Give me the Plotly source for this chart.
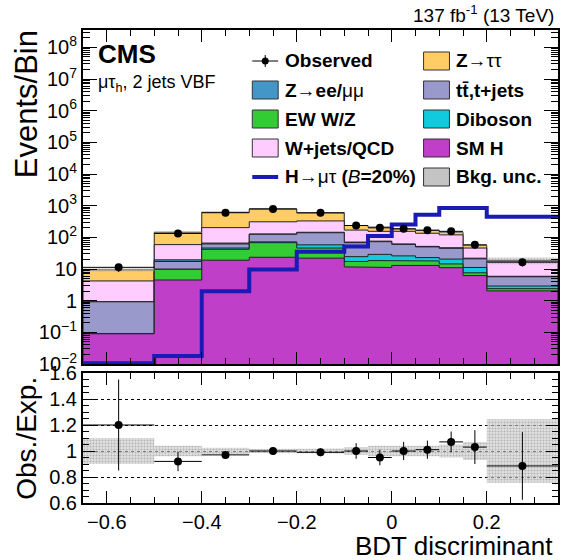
import numpy as np
import plotly.graph_objects as go

# ---------------- data ----------------
bin_edges = [-0.65, -0.5, -0.4, -0.3, -0.2, -0.1, -0.05, 0.0, 0.05, 0.1, 0.15, 0.2, 0.35]

sm_h    = [0.09, 4.5, 19.0, 23.5, 22.0, 11.7, 11.2, 13.0, 13.0, 11.0, 6.2, 2.04]
ew_wz   = [0.001, 5.3, 23.0, 44.5, 24.0, 5.6, 7.3, 5.0, 5.0, 3.5, 1.4, 0.36]
diboson = [0.001, 0.1, 4.0, 4.0, 12.0, 7.3, 10.5, 8.0, 5.0, 6.1, 3.6, 0.5]
ttbar   = [0.83, 7.4, 16.0, 53.0, 82.0, 43.4, 44.0, 34.0, 27.0, 24.4, 9.8, 2.8]
z_eemm  = [0.01, 2.2, 4.0, 3.0, 5.0, 3.0, 3.0, 2.0, 2.0, 2.0, 1.0, 0.2]
wj_qcd  = [3.27, 39.5, 137.0, 182.0, 185.0, 99.0, 79.0, 93.0, 83.0, 73.0, 24.0, 11.5]
z_tautau = [5.2, 86.0, 417.0, 480.0, 270.0, 67.0, 55.0, 31.0, 31.0, 25.0, 10.0, 1.2]

signal_lfv = [0.0105, 0.018, 2.0, 9.6, 35.0, 51.0, 110.0, 257.0, 515.0, 850.0, 850.0, 450.0]

observed     = [11.3, 133.0, 601.0, 790.0, 594.0, 237.0, 200.0, 186.0, 168.0, 155.0, 58.0, 16.5]
observed_err = [3.3, 11.0, 19.0, 20.0, 18.0, 14.0, 13.0, 13.0, 12.0, 12.0, 7.5, 4.5]

ratio_obs = [1.20, 0.92, 0.97, 1.00, 0.99, 1.00, 0.95, 1.00, 1.01, 1.07, 1.03, 0.885]
ratio_err = [0.35, 0.075, 0.03, 0.025, 0.03, 0.06, 0.06, 0.07, 0.07, 0.08, 0.13, 0.26]
bkg_rel_unc = [0.10, 0.04, 0.025, 0.015, 0.02, 0.03, 0.04, 0.045, 0.04, 0.05, 0.07, 0.245]

y_tick_vals = [1e-2, 1e-1, 1, 10, 1e2, 1e3, 1e4, 1e5, 1e6, 1e7, 1e8]
y_tick_text = ["10<sup>−2</sup>", "10<sup>−1</sup>", "1", "10", "10<sup>2</sup>", "10<sup>3</sup>",
               "10<sup>4</sup>", "10<sup>5</sup>", "10<sup>6</sup>", "10<sup>7</sup>", "10<sup>8</sup>"]
x_tick_vals = [-0.6, -0.4, -0.2, 0.0, 0.2]
x_tick_text = ["−0.6", "−0.4", "−0.2", "0", "0.2"]
r_tick_vals = [0.6, 0.8, 1.0, 1.2, 1.4, 1.6]
r_tick_text = ["0.6", "0.8", "1", "1.2", "1.4", "1.6"]

# ---------------- styling ----------------
FONT = "Liberation Sans, Arial, Helvetica, sans-serif"
C_ZTT = "#FFCC66"
C_ZEE = "#4496C8"
C_TT = "#9999CC"
C_EW = "#33CC33"
C_DIB = "#12CADD"
C_WJ = "#FFCCFF"
C_SMH = "#C03FC8"
C_SIG = "#1A1AB4"
C_EDGE = "#222222"

W, H = 563, 560
ML, MR, MT, MB = 83, 3, 30, 57
PW, PH = W - ML - MR, H - MT - MB
TOP_BOTTOM_PX, RATIO_TOP_PX = 364, 373


def px_x(p):
    return (p - ML) / PW


def px_y(p):
    return (H - MB - p) / PH


edges = np.array(bin_edges)
centers = 0.5 * (edges[:-1] + edges[1:])
halfw = 0.5 * (edges[1:] - edges[:-1])


def step_band(lower, upper):
    xs, ys = [], []
    for i in range(len(upper)):
        xs += [edges[i], edges[i + 1]]
        ys += [upper[i], upper[i]]
    for i in reversed(range(len(lower))):
        xs += [edges[i + 1], edges[i]]
        ys += [lower[i], lower[i]]
    xs.append(xs[0])
    ys.append(ys[0])
    return xs, ys


fig = go.Figure()

components = [sm_h, ew_wz, diboson, ttbar, z_eemm, wj_qcd, z_tautau]
colors = [C_SMH, C_EW, C_DIB, C_TT, C_ZEE, C_WJ, C_ZTT]
cum = np.cumsum(np.array(components), axis=0)
floor = np.full(len(centers), 1e-5)

for k in reversed(range(len(components))):
    xs, ys = step_band(floor, cum[k])
    fig.add_trace(go.Scatter(x=xs, y=ys, mode="lines", fill="toself", fillcolor=colors[k],
                             line=dict(color=C_EDGE, width=1), hoverinfo="skip",
                             showlegend=False, xaxis="x", yaxis="y"))

total = cum[-1]
unc = np.array(bkg_rel_unc)
xs, ys = step_band(total * (1 - unc), total * (1 + unc))
fig.add_trace(go.Scatter(x=xs, y=ys, mode="lines", fill="toself", fillcolor="rgba(150,150,150,0.45)",
                         fillpattern=dict(shape=".", fgcolor="#777777", bgcolor="rgba(190,190,190,0.5)",
                                          size=3, solidity=0.4),
                         line=dict(width=0), hoverinfo="skip", showlegend=False,
                         xaxis="x", yaxis="y"))

# signal line
sig_x = list(edges)
sig_y = list(signal_lfv) + [signal_lfv[-1]]
fig.add_trace(go.Scatter(x=sig_x, y=sig_y, mode="lines", line=dict(color=C_SIG, width=4, shape="hv"),
                         hoverinfo="skip", showlegend=False, xaxis="x", yaxis="y"))

# observed
fig.add_trace(go.Scatter(x=centers, y=observed, mode="markers",
                         marker=dict(color="black", size=8),
                         error_y=dict(type="data", array=observed_err, color="black", thickness=1, width=0),
                         error_x=dict(type="data", array=halfw, color="black", thickness=1, width=0),
                         showlegend=False, xaxis="x", yaxis="y"))

# ratio band
xs, ys = step_band(1 - unc, 1 + unc)
fig.add_trace(go.Scatter(x=xs, y=ys, mode="lines", fill="toself", fillcolor="rgba(170,170,170,0.55)",
                         fillpattern=dict(shape=".", fgcolor="#8a8a8a", bgcolor="rgba(205,205,205,0.6)",
                                          size=3, solidity=0.4),
                         line=dict(width=0), hoverinfo="skip", showlegend=False,
                         xaxis="x2", yaxis="y2"))
fig.add_trace(go.Scatter(x=centers, y=ratio_obs, mode="markers",
                         marker=dict(color="black", size=8),
                         error_y=dict(type="data", array=ratio_err, color="black", thickness=1, width=0),
                         error_x=dict(type="data", array=halfw, color="black", thickness=1, width=0),
                         showlegend=False, xaxis="x2", yaxis="y2"))

# ---------------- axes ----------------
y_minor = [m * 10.0 ** e for e in range(-2, 9) for m in range(2, 10)]
x_minor = list(np.round(np.arange(-0.65, 0.351, 0.05), 3))
tickfont = dict(family=FONT, size=20, color="black")
common_x = dict(range=[-0.65, 0.35], showline=True, linewidth=2, linecolor="black", mirror="allticks",
                ticks="inside", ticklen=12, tickwidth=1, tickcolor="black", showgrid=False, zeroline=False,
                tickvals=x_tick_vals,
                minor=dict(tickvals=x_minor, ticks="inside", ticklen=6, tickcolor="black", showgrid=False))
y_top0 = px_y(TOP_BOTTOM_PX)
y_bot1 = px_y(RATIO_TOP_PX)

fig.update_layout(
    width=W, height=H, margin=dict(l=ML, r=MR, t=MT, b=MB),
    paper_bgcolor="white", plot_bgcolor="white", showlegend=False,
    font=dict(family=FONT, color="black"),
    xaxis=dict(domain=[0, 1], anchor="y", showticklabels=False, **common_x),
    yaxis=dict(domain=[y_top0, 1], anchor="x", type="log", range=[-2, 8.55],
               tickvals=y_tick_vals, ticktext=y_tick_text, tickfont=tickfont,
               showline=True, linewidth=2, linecolor="black", mirror="allticks",
               ticks="inside", ticklen=14, tickwidth=1, tickcolor="black", showgrid=False, zeroline=False,
               minor=dict(tickvals=y_minor, ticks="inside", ticklen=7, tickcolor="black", showgrid=False)),
    xaxis2=dict(domain=[0, 1], anchor="y2", ticktext=x_tick_text, tickfont=tickfont, **common_x),
    yaxis2=dict(domain=[0, y_bot1], anchor="x2", range=[0.6, 1.6], tickvals=r_tick_vals,
                ticktext=r_tick_text, tickfont=tickfont,
                showline=True, linewidth=2, linecolor="black", mirror="allticks",
                ticks="inside", ticklen=12, tickwidth=1, tickcolor="black",
                showgrid=True, gridcolor="black", griddash="dot", gridwidth=1, zeroline=False,
                minor=dict(dtick=0.05, ticks="inside", ticklen=6, tickcolor="black", showgrid=False)),
)

BLACK = "black"
ann = []
shapes = []
ann.append(dict(text="Events/Bin", textangle=-90, x=px_x(27), y=px_y(28), xref="paper", yref="paper",
                xanchor="center", yanchor="top", showarrow=False, font=dict(size=31, color=BLACK)))
ann.append(dict(text="Obs./Exp.", textangle=-90, x=px_x(26), y=px_y(375), xref="paper", yref="paper",
                xanchor="center", yanchor="top", showarrow=False, font=dict(size=28, color=BLACK)))
ann.append(dict(text="BDT discriminant", x=px_x(557), y=px_y(546), xref="paper", yref="paper",
                xanchor="right", yanchor="middle", showarrow=False, font=dict(size=26, color=BLACK)))
ann.append(dict(text="137 fb<sup>-1</sup> (13 TeV)", x=px_x(558), y=px_y(14), xref="paper", yref="paper",
                xanchor="right", yanchor="middle", showarrow=False, font=dict(size=19, color=BLACK)))
ann.append(dict(text="<b>CMS</b>", x=px_x(96), y=px_y(54), xref="paper", yref="paper",
                xanchor="left", yanchor="middle", showarrow=False, font=dict(size=26, color=BLACK)))
ann.append(dict(text="μτ<sub>h</sub>, 2 jets VBF", x=px_x(96), y=px_y(84), xref="paper", yref="paper",
                xanchor="left", yanchor="middle", showarrow=False, font=dict(size=18, color=BLACK)))

rows = [61, 90, 119, 148, 177]
col1_box = (253, 279)
col2_box = (425, 451)
BOXH = 18


def add_box(col, row, color):
    shapes.append(dict(type="rect", xref="paper", yref="paper",
                       x0=px_x(col[0]), x1=px_x(col[1]), y0=px_y(row + BOXH / 2), y1=px_y(row - BOXH / 2),
                       fillcolor=color, line=dict(color="#333333", width=1)))


def add_text(col, row, text):
    ann.append(dict(text=text, x=px_x(col[1] + 5), y=px_y(row), xref="paper", yref="paper",
                    xanchor="left", yanchor="middle", showarrow=False, font=dict(size=19, color=BLACK)))


# column 1
shapes.append(dict(type="line", xref="paper", yref="paper", x0=px_x(col1_box[0]), x1=px_x(col1_box[1]),
                   y0=px_y(rows[0]), y1=px_y(rows[0]), line=dict(color="black", width=1)))
shapes.append(dict(type="line", xref="paper", yref="paper", x0=px_x(266), x1=px_x(266),
                   y0=px_y(rows[0] - 6), y1=px_y(rows[0] + 6), line=dict(color="black", width=1)))
shapes.append(dict(type="circle", xref="paper", yref="paper", x0=px_x(262.5), x1=px_x(269.5),
                   y0=px_y(rows[0] + 3.5), y1=px_y(rows[0] - 3.5), fillcolor="black", line=dict(width=0)))
add_text(col1_box, rows[0], "<b>Observed</b>")
add_box(col1_box, rows[1], C_ZEE)
add_text(col1_box, rows[1], "<b>Z→ee/</b>μμ")
add_box(col1_box, rows[2], C_EW)
add_text(col1_box, rows[2], "<b>EW W/Z</b>")
add_box(col1_box, rows[3], C_WJ)
add_text(col1_box, rows[3], "<b>W+jets/QCD</b>")
shapes.append(dict(type="line", xref="paper", yref="paper", x0=px_x(col1_box[0]), x1=px_x(col1_box[1]),
                   y0=px_y(rows[4]), y1=px_y(rows[4]), line=dict(color=C_SIG, width=4)))
add_text(col1_box, rows[4], "<b>H</b>→μτ <b>(</b><i>B</i><b>=20%)</b>")
# column 2
add_box(col2_box, rows[0], C_ZTT)
add_text(col2_box, rows[0], "<b>Z</b>→ττ")
add_box(col2_box, rows[1], C_TT)
add_text(col2_box, rows[1], "<b>tt\u0304,t+jets</b>")
add_box(col2_box, rows[2], C_DIB)
add_text(col2_box, rows[2], "<b>Diboson</b>")
add_box(col2_box, rows[3], C_SMH)
add_text(col2_box, rows[3], "<b>SM H</b>")
add_box(col2_box, rows[4], "#C4C4C4")
add_text(col2_box, rows[4], "<b>Bkg. unc.</b>")

fig.update_layout(annotations=ann, shapes=shapes)
fig.write_html("out.html", config={"displayModeBar": False},
               post_script="document.body.style.margin='0';document.body.style.overflow='hidden';")
